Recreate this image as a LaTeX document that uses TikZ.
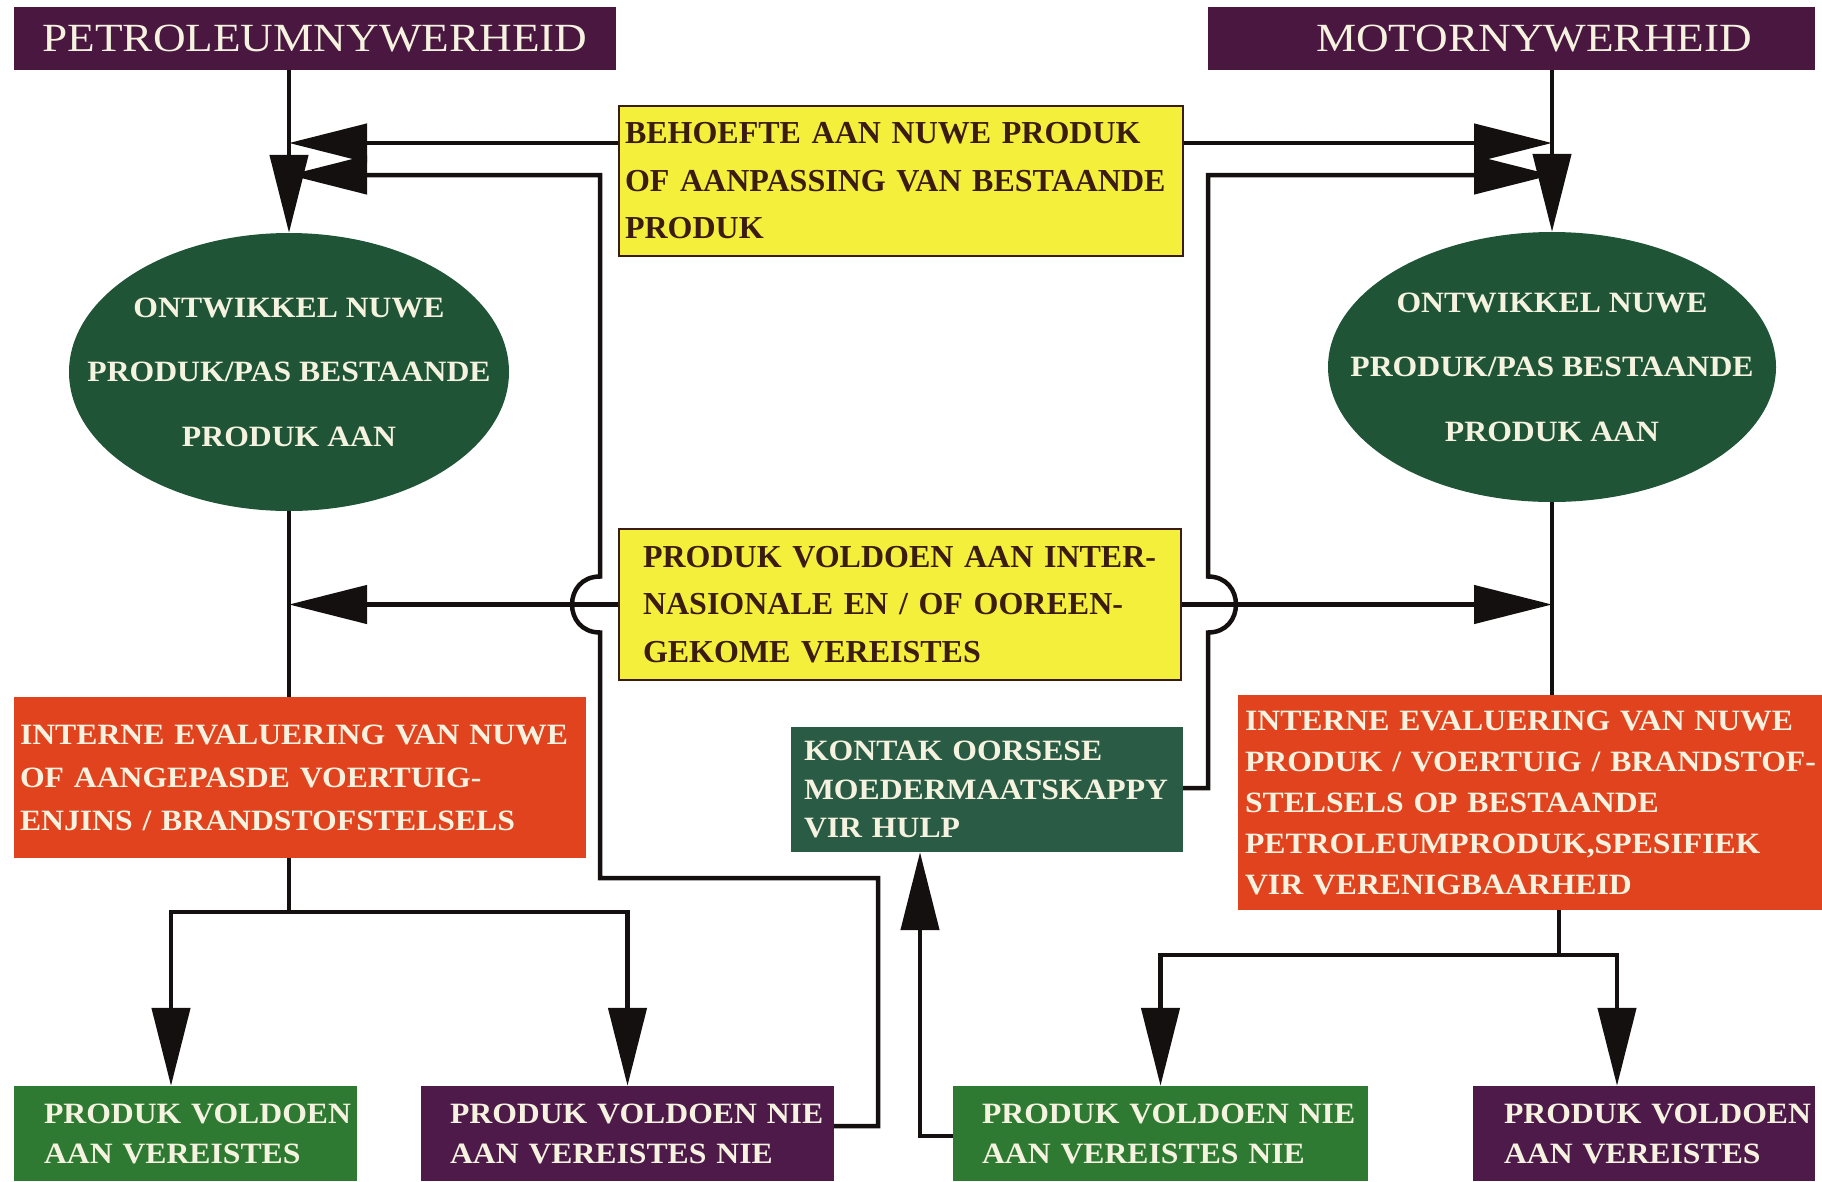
\documentclass[tikz,border=0pt]{standalone}
\usepackage{fontspec}
\setmainfont{Liberation Serif}
\newfontfamily\wfont[FakeStretch=1.075]{Liberation Serif}
\newfontfamily\tfont[FakeStretch=1.13]{Liberation Serif}
\usetikzlibrary{arrows.meta,shapes.geometric}
\definecolor{plum}{HTML}{4A1740}
\definecolor{plumb}{HTML}{4D1A4A}
\definecolor{yel}{HTML}{F3EF3A}
\definecolor{ytext}{HTML}{3B1C12}
\definecolor{elgreen}{HTML}{1F5536}
\definecolor{kgreen}{HTML}{2A5C45}
\definecolor{bgreen}{HTML}{2F7A33}
\definecolor{redbox}{HTML}{E2431F}
\definecolor{cream}{HTML}{F5F3E0}
\definecolor{lncol}{HTML}{141010}
\newcommand\oneline[1]{\mbox{#1}}
\begin{document}
\begin{tikzpicture}[x=1pt,y=-1pt,
  every node/.style={inner sep=0pt},
  ln/.style={line width=4.5pt, draw=lncol, line join=miter},
  arr/.style={ln, -{Triangle[length=78pt,width=38pt]}},
  titlebox/.style={fill=plum, text=cream, minimum height=63pt, font=\tfont\fontsize{40}{48}\selectfont},
  ybox/.style={fill=yel, draw=ytext, line width=2pt, text=ytext, align=left, font=\bfseries\fontsize{32}{47.5}\selectfont},
  ell/.style={ellipse, fill=elgreen, text=cream, align=center, inner xsep=-60pt, inner ysep=0pt, font=\wfont\bfseries\fontsize{29.5}{64.5}\selectfont},
  rbox/.style={fill=redbox, text=cream, align=left},
  kbox/.style={fill=kgreen, text=cream, align=left, font=\wfont\bfseries\fontsize{29.5}{38.5}\selectfont},
  gbox/.style={fill=bgreen, text=cream, align=left, minimum height=95pt, font=\wfont\bfseries\fontsize{29.5}{40}\selectfont},
  pbox/.style={fill=plumb, text=cream, align=left, minimum height=95pt, font=\wfont\bfseries\fontsize{29.5}{40}\selectfont}
]
\useasboundingbox[fill=white] (0,0) rectangle (1822,1181);

% title boxes
\node[titlebox, minimum width=602pt] (petro) at (315,38.5) {PETROLEUMNYWERHEID};
\node[titlebox, minimum width=607pt, text width=607pt, align=left] (motor) at (1511.5,38.5) {\hspace*{108pt}MOTORNYWERHEID};

% yellow boxes
\node[ybox, minimum width=564pt, minimum height=150pt, text width=552pt, inner xsep=6pt] (ytop) at (901,181)
  {\oneline{BEHOEFTE AAN NUWE PRODUK}\\\oneline{OF AANPASSING VAN BESTAANDE}\\PRODUK};
\node[ybox, minimum width=562pt, minimum height=151pt, text width=514pt, inner xsep=24pt] (ymid) at (900,604.5)
  {\oneline{PRODUK VOLDOEN AAN INTER-}\\\oneline{NASIONALE EN / OF OOREEN-}\\\oneline{GEKOME VEREISTES}};

% ellipses
\node[ell, minimum width=440pt, minimum height=278pt] (elL) at (289,372) {ONTWIKKEL NUWE\\PRODUK/PAS BESTAANDE\\PRODUK AAN};
\node[ell, minimum width=448pt, minimum height=270pt] (elR) at (1552,367) {ONTWIKKEL NUWE\\PRODUK/PAS BESTAANDE\\PRODUK AAN};

% red boxes
\node[rbox, minimum width=572pt, minimum height=161pt, text width=560pt, inner xsep=6pt, font=\wfont\bfseries\fontsize{29.5}{43}\selectfont] (redL) at (300,777.5)
  {\oneline{INTERNE EVALUERING VAN NUWE}\\\oneline{OF AANGEPASDE VOERTUIG-}\\\oneline{ENJINS / BRANDSTOFSTELSELS}};
\node[rbox, minimum width=584pt, minimum height=215pt, text width=570pt, inner xsep=7pt, font=\wfont\bfseries\fontsize{29.5}{41}\selectfont] (redR) at (1530,802.5)
  {\oneline{INTERNE EVALUERING VAN NUWE}\\\oneline{PRODUK / VOERTUIG / BRANDSTOF-}\\\oneline{STELSELS OP BESTAANDE}\\\oneline{PETROLEUMPRODUK,SPESIFIEK}\\\oneline{VIR VERENIGBAARHEID}};

% kontak
\node[kbox, minimum width=392pt, minimum height=125pt, text width=366pt, inner xsep=13pt] (kontak) at (987,789.5)
  {\oneline{KONTAK OORSESE}\\\oneline{MOEDERMAATSKAPPY}\\\oneline{VIR HULP}};

% bottom boxes
\node[gbox, minimum width=343pt, text width=283pt, inner xsep=30pt] (LG) at (185.5,1133.5) {\oneline{PRODUK VOLDOEN}\\\oneline{AAN VEREISTES}};
\node[pbox, minimum width=413pt, text width=355pt, inner xsep=29pt] (PN) at (627.5,1133.5) {\oneline{PRODUK VOLDOEN NIE}\\\oneline{AAN VEREISTES NIE}};
\node[gbox, minimum width=415pt, text width=357pt, inner xsep=29pt] (GN) at (1160.5,1133.5) {\oneline{PRODUK VOLDOEN NIE}\\\oneline{AAN VEREISTES NIE}};
\node[pbox, minimum width=342pt, text width=280pt, inner xsep=31pt] (PR) at (1644,1133.5) {\oneline{PRODUK VOLDOEN}\\\oneline{AAN VEREISTES}};

% route coordinates
\coordinate (lA) at (878,1126);
\coordinate (lB) at (878,878);
\coordinate (lC) at (600,878);
\coordinate (lD) at (600,632.5);
\coordinate (lE) at (600,576.5);
\coordinate (lF) at (600,175);
\coordinate (rA) at (1208,788);
\coordinate (rD) at (1208,632.5);
\coordinate (rE) at (1208,576.5);
\coordinate (rF) at (1208,175);
\coordinate (jL) at (289,912);
\coordinate (jR) at (1559,955);

% connectors
\draw[arr] (petro.south -| elL.north) -- (elL.north);
\draw[arr] (motor.south -| elR.north) -- (elR.north);
\draw[arr] ([yshift=38pt]ytop.west) -- ([yshift=38pt]ytop.west -| elL.north);
\draw[arr] ([yshift=38pt]ytop.east) -- ([yshift=38pt]ytop.east -| elR.north);
\draw[arr] (ymid.west) -- (ymid.west -| elL.north);
\draw[arr] (ymid.east) -- (ymid.east -| elR.north);
\draw[ln] (elL.south) -- (elL.south |- redL.north);
\draw[ln] (elR.south) -- (elR.south |- redR.north);

\draw[arr] ([yshift=7.5pt]PN.east) -- (lA) -- (lB) -- (lC) -- (lD)
   .. controls (562.7,632.5) and (562.7,576.5) .. (lE) -- (lF) -- (lF -| elL.north);
\draw[arr] ([yshift=1.5pt]kontak.east) -- (rA) -- (rD)
   .. controls (1245.3,632.5) and (1245.3,576.5) .. (rE) -- (rF) -- (rF -| elR.north);

\draw[ln] (redL.south -| jL) -- (jL);
\draw[arr] (jL) -| ([xshift=-14.5pt]LG.north);
\draw[arr] (jL) -| (PN.north);
\draw[ln] (redR.south -| jR) -- (jR);
\draw[arr] (jR) -| (GN.north);
\draw[arr] (jR) -| ([xshift=-27pt]PR.north);
\draw[arr] ([yshift=-2.5pt]GN.west) -| ([xshift=-67pt]kontak.south);
\end{tikzpicture}
\end{document}
